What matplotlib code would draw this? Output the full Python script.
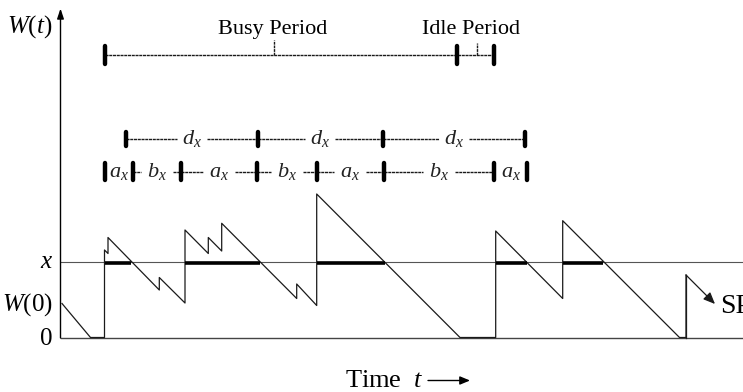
import matplotlib
matplotlib.use('Agg')
import matplotlib.pyplot as plt

plt.rcParams['font.family'] = 'Liberation Serif'
plt.rcParams['mathtext.fontset'] = 'custom'
plt.rcParams['mathtext.rm'] = 'Liberation Serif'
plt.rcParams['mathtext.it'] = 'Liberation Serif:italic'

# workload sample path W(t): vertices (time, work), drain rate 1
path_t = [1.5, 30, 44, 44, 47.5, 47.5, 98.8, 98.8, 124.5, 124.5, 147.8, 147.8,
          161.2, 161.2, 236.2, 236.2, 256.2, 256.2, 399.5, 435.2, 435.2, 502.2,
          502.2, 619, 625.5, 625.5]
path_w = [34, 0, 0, 87.5, 84, 100, 47.5, 60, 34.5, 107.5, 84, 100,
          86.5, 114.2, 39, 53.5, 32, 143.5, 0, 0, 106.5, 39,
          116.8, 0, 0, 62.5]
# last (open) piece heading into the next subperiod
sp_t = [625.5, 654.5]
sp_w = [62.5, 33.5]

x_level = 76
w0 = 34

# stretches spent above level x
above_start = [44, 124.5, 256.2, 435.2, 502.2]
above_end = [70.5, 199.9, 324.2, 466.2, 542.5]

# period brackets
busy = [44.5, 396.8]
idle = [396.8, 433.8]
d_ticks = [65.5, 197.2, 322.2, 464.5]
ab_ticks = [44.5, 72.2, 120.2, 196.2, 256.2, 323.5, 433.8, 466.2]
ab_names = ['a', 'b', 'a', 'b', 'a', 'b', 'a']

t_min, t_max = -60.5, 682.5
w_min, w_max = -54.5, 337.5

fig = plt.figure(figsize=(7.43, 3.92), dpi=100)
ax = fig.add_axes([0, 0, 1, 1])
ax.set_xlim(t_min, t_max)
ax.set_ylim(w_min, w_max)
ax.axis('off')

ink = '#1a1a1a'
dash = (0, (2.2, 0.5))

# axes: W(t) arrow, zero line and level x
ax.annotate('', xy=(0, 329), xytext=(0, -0.5),
            arrowprops=dict(arrowstyle='-|>,head_length=0.6,head_width=0.2',
                            lw=1.0, color='black', shrinkA=0, shrinkB=0,
                            mutation_scale=10))
ax.plot([0, t_max], [0, 0], color='#444444', lw=1.0)
ax.plot([0, t_max], [x_level, x_level], color='#555555', lw=0.8)

# sample path
ax.plot(path_t, path_w, color=ink, lw=0.9)
ax.annotate('', xy=(sp_t[1], sp_w[1]), xytext=(sp_t[0], sp_w[0]),
            arrowprops=dict(arrowstyle='-|>,head_length=0.7,head_width=0.3',
                            lw=0.9, color=ink, shrinkA=0, shrinkB=0,
                            mutation_scale=10))
ax.plot([sp_t[0], sp_t[0]], [0, sp_w[0]], color=ink, lw=0.9)

# bold stretches above x
for s, e in zip(above_start, above_end):
    ax.plot([s, e], [x_level - 1, x_level - 1], color='black', lw=2.6,
            solid_capstyle='butt')

def bracket_row(ticks, y, names, gap, half, lab_y, size):
    for i in range(len(ticks) - 1):
        s, e = ticks[i], ticks[i + 1]
        c = 0.5 * (s + e)
        if c - gap / 2 > s:
            ax.plot([s, c - gap / 2], [y, y], color=ink, lw=1.0, ls=dash)
            ax.plot([c + gap / 2, e], [y, y], color=ink, lw=1.0, ls=dash)
        ax.text(c, lab_y, '$%s_x$' % names[i], ha='center', va='baseline',
                fontsize=size, color='#222222')
    for t in ticks:
        ax.plot([t, t], [y - half, y + half], color='black', lw=3.2,
                solid_capstyle='round')


bracket_row(d_ticks, 198.5, ['d', 'd', 'd'], 30, 7, 193.5, 16)
bracket_row(ab_ticks, 166, ab_names, 32, 8.5, 160.5, 16)

# busy / idle period bar
by = 282.5
ax.plot([busy[0], idle[1]], [by, by], color=ink, lw=1.0, ls=dash)
for t, h in [(busy[0], 9), (busy[1], 9), (idle[1], 9)]:
    ax.plot([t, t], [by - h, by + h], color='black', lw=3.2,
            solid_capstyle='round')
ax.plot([213.5, 213.5], [by, by + 15], color=ink, lw=1.0, ls=(0, (2, 0.6)))
ax.plot([416.2, 416.2], [by, by + 12], color=ink, lw=1.0, ls=(0, (2, 0.6)))
ax.text(212.5, 303.5, 'Busy Period', ha='center', va='baseline', fontsize=16)
ax.text(410, 303.5, 'Idle Period', ha='center', va='baseline', fontsize=16)

# left labels
ax.text(-7.8, 304.5, '$W(t)$', ha='right', va='baseline', fontsize=18)
ax.text(-7.5, 69.5, '$x$', ha='right', va='baseline', fontsize=18)
ax.text(-7.5, 26.5, '$W$(0)', ha='right', va='baseline', fontsize=18)
ax.text(-8.5, -7.5, '0', ha='right', va='baseline', fontsize=18)

ax.text(659.5, 24.5, 'SP', ha='left', va='baseline', fontsize=20)

# time axis caption
ax.text(284.5, -49.5, 'Time  $t$', ha='left', va='baseline', fontsize=19)
ax.annotate('', xy=(409.5, -43), xytext=(367.5, -43),
            arrowprops=dict(arrowstyle='-|>,head_length=0.6,head_width=0.25',
                            lw=1.0, color='black', shrinkA=0, shrinkB=0,
                            mutation_scale=10))

fig.savefig('out.png', dpi=100)
